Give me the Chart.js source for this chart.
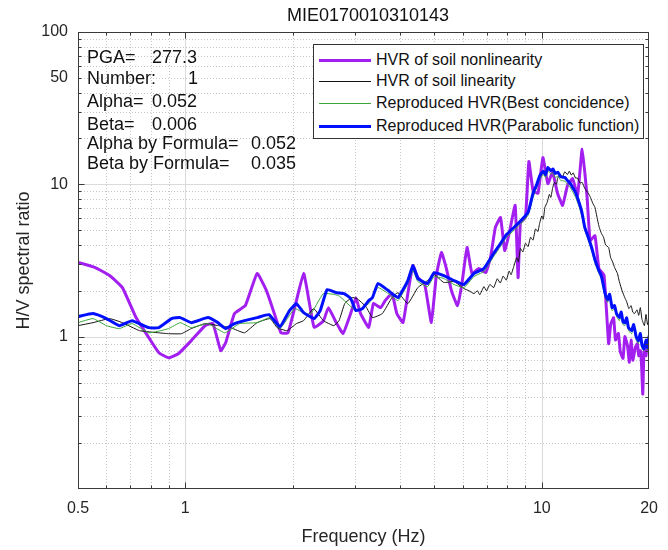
<!DOCTYPE html>
<html><head><meta charset="utf-8">
<script src="https://cdn.jsdelivr.net/npm/chart.js@4.4.1/dist/chart.umd.min.js"></script>
<style>
html,body{margin:0;padding:0;background:#fff;}
#wrap{position:relative;width:668px;height:550px;font-family:"Liberation Sans",Arial,Helvetica,sans-serif;color:#1a1a1a;overflow:hidden;}
canvas{position:absolute;left:0;top:0;}
#title{position:absolute;left:78px;width:580px;top:4px;text-align:center;font-size:18px;line-height:22px;color:#111;}
.ann{position:absolute;font-size:18px;line-height:20px;white-space:pre;color:#111;}
#legend{position:absolute;left:313px;top:44px;width:331px;height:95px;border:1px solid #333;background:#fff;box-sizing:border-box;}
.lrow{position:absolute;left:0;height:22px;width:100%;}
.lline{position:absolute;left:5px;width:52px;top:11px;}
.ltext{position:absolute;left:62px;top:0;font-size:16px;line-height:22px;white-space:nowrap;color:#111;}
</style></head>
<body>
<div id="wrap">
<canvas id="c" width="668" height="550"></canvas>
<div id="title"></div>
<div id="ann"></div>
<div id="legend"></div>
</div>
<script>
// ---------- texts ----------
const chartTitle = 'MIE0170010310143';
const xAxisTitle = 'Frequency (Hz)';
const yAxisTitle = 'H/V spectral ratio';
const seriesNames = ['HVR of soil nonlinearity', 'HVR of soil linearity', 'Reproduced HVR(Best concidence)', 'Reproduced HVR(Parabolic function)'];
const xTickValues = [0.5, 1, 10, 20];
const yTickValues = [1, 10, 50, 100];
const annotationLabels = ['PGA=', 'Number:', 'Alpha=', 'Beta=', 'Alpha by Formula=', 'Beta by Formula='];
const annotationValues = ['277.3', '1', '0.052', '0.006', '0.052', '0.035'];

// ---------- data ----------
const nonlinFreq = [0.5,0.557,0.613,0.666,0.728,0.790,0.843,0.897,0.956,1.039,1.136,1.195,1.257,1.298,1.374,1.474,1.59,1.69,1.777,1.855,1.94,2.027,2.147,2.23,2.30,2.44,2.52,2.65,2.77,2.91,3.01,3.10,3.27,3.37,3.53,3.64,3.80,3.92,4.08,4.21,4.35,4.49,4.69,4.90,5.06,5.23,5.40,5.58,5.80,5.97,6.17,6.37,6.66,6.96,7.18,7.41,7.66,7.87,8.10,8.42,8.58,8.71,9.0,9.2,9.45,9.76,10.07,10.4,10.72,11.07,11.44,11.8,12.2,12.6,12.98,13.4,13.66,14.1,14.46,14.95,15.4,15.6,15.9,16.1,16.4,16.6,16.9,17.1,17.4,17.6,17.8,18.0,18.3,18.55,18.7,18.9,19.05,19.2,19.35,19.6,19.8,20.0];
const nonlinHV = [3.07,2.85,2.52,2.10,1.33,0.985,0.785,0.727,0.773,0.941,1.18,1.22,0.81,0.913,1.42,1.60,2.60,2.0,1.42,1.06,1.06,1.55,2.6,1.65,1.15,1.27,1.55,1.24,1.05,1.42,1.8,1.42,1.15,1.65,1.55,1.73,1.92,1.42,1.24,1.92,2.93,2.44,2.23,1.24,2.52,3.57,2.80,2.0,1.6,2.23,3.85,2.6,2.8,2.63,3.31,5.21,6.06,3.68,4.76,7.27,2.44,5.6,6.06,14.1,9.13,8.74,15.0,10.1,12.0,8.74,7.27,9.8,10.9,8.5,17.0,8.2,4.28,4.6,2.8,2.52,0.90,1.2,1.33,0.95,1.05,0.8,0.72,1.0,0.87,0.68,0.95,0.70,0.85,0.90,0.75,0.81,0.65,0.42,0.8,0.75,0.95,0.87];

const linFreq = [0.5,0.551,0.613,0.666,0.744,0.843,0.897,0.975,1.039,1.136,1.24,1.34,1.465,1.59,1.73,1.81,1.93,2.05,2.147,2.29,2.44,2.61,2.70,2.80,2.93,3.03,3.21,3.35,3.57,3.80,3.95,4.21,4.49,4.78,4.99,5.31,5.67,6.05,6.25,6.45,6.6,6.7,6.88,7.0,7.15,7.33,7.5,7.65,7.79,7.95,8.1,8.2,8.33,8.5,8.6,8.71,8.85,9.0,9.15,9.3,9.45,9.6,9.75,9.87,10.0,10.1,10.2,10.35,10.5,10.6,10.72,10.85,11.0,11.07,11.25,11.44,11.6,11.8,11.95,12.1,12.25,12.43,12.6,12.8,12.98,13.2,13.5,13.7,13.9,14.1,14.3,14.5,14.7,14.9,15.1,15.4,15.6,15.8,16.0,16.3,16.5,16.8,17.1,17.3,17.55,17.8,18.0,18.2,18.5,18.7,18.9,19.1,19.4,19.6,19.8,20.0];
const linHV = [1.181,1.236,1.314,1.236,1.095,1.06,1.046,1.046,1.129,1.218,1.181,1.146,1.06,1.236,1.314,1.146,1.095,1.218,1.274,1.528,1.274,1.181,1.274,1.648,1.805,1.78,1.575,1.334,1.417,1.805,1.947,1.648,2.10,2.335,2.56,2.267,2.30,2.069,2.0,1.918,2.0,1.88,2.13,2.0,2.2,2.1,2.4,2.25,2.5,2.35,2.7,2.55,2.85,3.3,3.1,3.79,3.6,4.1,3.9,4.5,4.3,5.1,4.9,5.6,6.2,5.9,7.06,7.6,8.6,8.2,9.4,10.3,10.0,10.9,11.6,11.2,12.1,11.6,12.2,11.5,11.9,11.0,11.0,10.2,10.3,9.4,8.74,8.2,7.5,7.06,6.0,5.2,4.76,4.5,4.0,3.85,3.3,3.1,2.85,2.6,2.3,2.0,1.8,1.7,1.528,1.6,1.45,1.417,1.5,1.38,1.551,1.3,1.181,1.4,1.2,1.314];

const bestFreq = [0.5,0.551,0.601,0.653,0.709,0.790,0.897,0.968,1.039,1.157,1.29,1.42,1.59,1.73,1.843,2.027,2.23,2.44,2.69,3.01,3.27,3.47,3.71,3.95,4.21,4.35,4.49,4.78,4.99,5.31,5.67,6.05,6.45,6.88,7.33,7.66,7.96,8.58,9.15,9.45,9.65,9.87,10.1,10.25,10.4,10.6,10.75,10.9,11.1,11.3,11.6,11.8,12.0,12.2,12.45,12.72,12.95,13.2,13.5,13.8,14.1,14.46,14.7,15.05,15.3,15.5,15.75,16.0,16.2,16.5,16.7,16.9,17.1,17.3,17.5,17.86,18.1,18.4,18.66,18.9,19.1,19.35,19.6,19.8,20.0];
const bestHV = [1.236,1.314,1.181,1.129,1.218,1.06,1.129,1.236,1.146,1.218,1.06,1.218,1.236,1.334,1.129,1.528,1.375,1.918,1.861,1.483,1.648,2.10,1.918,1.725,2.233,2.72,2.30,2.13,2.48,2.41,2.2,2.10,2.48,2.68,3.36,3.91,4.48,5.29,6.25,8.22,9.4,10.8,11.6,11.1,12.2,11.7,11.9,11.1,11.3,10.6,10.5,10.0,9.6,8.97,8.2,7.16,6.2,4.98,4.3,3.68,3.05,2.6,2.4,1.83,1.68,1.8,1.483,1.52,1.36,1.274,1.38,1.2,1.181,1.26,1.1,1.046,1.14,0.95,0.90,1.0,0.84,0.81,0.9,0.82,0.97];

const paraFreq = [0.5,0.551,0.601,0.653,0.709,0.790,0.843,0.915,0.968,1.039,1.157,1.234,1.298,1.374,1.465,1.59,1.717,1.843,1.96,2.05,2.147,2.30,2.39,2.50,2.65,2.79,2.91,3.01,3.14,3.27,3.35,3.47,3.71,3.95,4.21,4.35,4.49,4.78,4.99,5.31,5.67,6.05,6.45,6.88,7.33,7.66,7.96,8.58,9.15,9.45,9.65,9.87,10.1,10.25,10.4,10.6,10.75,10.9,11.1,11.3,11.6,11.8,12.0,12.2,12.45,12.72,12.95,13.2,13.5,13.8,14.1,14.46,14.7,15.05,15.3,15.5,15.75,16.0,16.2,16.5,16.7,16.9,17.1,17.3,17.5,17.86,18.1,18.4,18.66,18.9,19.1,19.35,19.6,19.8,20.0];
const paraHV = [1.354,1.417,1.314,1.181,1.274,1.146,1.146,1.314,1.334,1.236,1.334,1.236,1.129,1.218,1.274,1.334,1.395,1.163,1.483,1.648,1.438,1.314,1.483,2.04,1.947,1.918,1.78,1.483,1.528,1.725,1.805,2.233,2.007,1.805,2.335,2.93,2.41,2.233,2.63,2.52,2.335,2.2,2.597,2.8,3.52,4.09,4.68,5.53,6.54,8.74,9.8,11.4,12.2,11.6,12.9,12.3,12.6,11.8,12.0,11.2,11.1,10.6,10.2,9.55,8.8,7.61,6.6,5.21,4.5,3.85,3.2,2.72,2.5,1.918,1.75,1.9,1.551,1.6,1.42,1.334,1.45,1.25,1.236,1.33,1.15,1.095,1.2,1.0,0.941,1.05,0.88,0.833,0.95,0.85,1.015];

// ---------- styles ----------
const FONT = '"Liberation Sans", Arial, Helvetica, sans-serif';
const seriesColors = ['#a21ff0', '#111111', '#3aa53a', '#0010ff'];
const seriesWidths = [3, 1, 1, 3];
const seriesOrder = [4, 3, 2, 1];
const annRowY = [47, 68, 91, 114, 133, 153];
const annValX = [152, 188, 152, 152, 251, 251];
const xMinor = [0.6,0.7,0.8,0.9,2,3,4,5,6,7,8,9];
const xMajor = [1,10];
const yMinor = [0.2,0.3,0.4,0.5,0.6,0.7,0.8,0.9,2,3,4,5,6,7,8,9,20,30,40,50,60,70,80,90];
const yMajor = [1,10];

// ---------- html texts ----------
document.getElementById('title').textContent = chartTitle;
const annDiv = document.getElementById('ann');
annotationLabels.forEach((t, i) => {
  const a = document.createElement('div'); a.className = 'ann';
  a.style.left = '87px'; a.style.top = annRowY[i] + 'px'; a.textContent = t; annDiv.appendChild(a);
  const b = document.createElement('div'); b.className = 'ann';
  b.style.left = annValX[i] + 'px'; b.style.top = annRowY[i] + 'px'; b.textContent = annotationValues[i]; annDiv.appendChild(b);
});
const leg = document.getElementById('legend');
const legRowTop = [4, 25, 47, 70];
seriesNames.forEach((n, i) => {
  const r = document.createElement('div'); r.className = 'lrow'; r.style.top = legRowTop[i] + 'px';
  const l = document.createElement('div'); l.className = 'lline';
  l.style.borderTop = seriesWidths[i] + 'px solid ' + seriesColors[i];
  l.style.marginTop = (-seriesWidths[i] / 2) + 'px';
  const t = document.createElement('div'); t.className = 'ltext'; t.textContent = n;
  r.appendChild(l); r.appendChild(t); leg.appendChild(r);
});

// ---------- chart ----------
function pts(F, V) { return F.map((f, i) => ({x: f, y: V[i]})); }
const seriesData = [pts(nonlinFreq, nonlinHV), pts(linFreq, linHV), pts(bestFreq, bestHV), pts(paraFreq, paraHV)];

const axesPlugin = {
  id: 'matlabAxes',
  beforeDatasetsDraw(chart) {
    const {ctx, chartArea: a, scales: {x, y}} = chart;
    ctx.save();
    ctx.lineWidth = 1;
    const vline = (v, col, dash) => { const p = Math.round(x.getPixelForValue(v)) + 0.5; ctx.strokeStyle = col; ctx.setLineDash(dash); ctx.beginPath(); ctx.moveTo(p, a.top); ctx.lineTo(p, a.bottom); ctx.stroke(); };
    const hline = (v, col, dash) => { const p = Math.round(y.getPixelForValue(v)) + 0.5; ctx.strokeStyle = col; ctx.setLineDash(dash); ctx.beginPath(); ctx.moveTo(a.left, p); ctx.lineTo(a.right, p); ctx.stroke(); };
    xMinor.forEach(v => vline(v, '#c4c4c4', [1, 2]));
    yMinor.forEach(v => hline(v, '#c4c4c4', [1, 2]));
    xMajor.forEach(v => vline(v, '#dadada', []));
    yMajor.forEach(v => hline(v, '#dadada', []));
    ctx.restore();
  },
  afterDatasetsDraw(chart) {
    const {ctx, chartArea: a, scales: {x, y}} = chart;
    ctx.save();
    ctx.strokeStyle = '#3a3a3a';
    ctx.lineWidth = 1;
    ctx.setLineDash([]);
    const L = Math.round(a.left) + 0.5, R = Math.round(a.right) - 0.5, T = Math.round(a.top) + 0.5, B = Math.round(a.bottom) - 0.5;
    ctx.strokeRect(L, T, R - L, B - T);
    ctx.beginPath();
    const xt = (v, len) => { const p = Math.round(x.getPixelForValue(v)) + 0.5; ctx.moveTo(p, B); ctx.lineTo(p, B - len); ctx.moveTo(p, T); ctx.lineTo(p, T + len); };
    const yt = (v, len) => { const p = Math.round(y.getPixelForValue(v)) + 0.5; ctx.moveTo(L, p); ctx.lineTo(L + len, p); ctx.moveTo(R, p); ctx.lineTo(R - len, p); };
    xMinor.forEach(v => xt(v, 3)); xMajor.forEach(v => xt(v, 6));
    yMinor.forEach(v => yt(v, 3)); yMajor.forEach(v => yt(v, 6));
    ctx.stroke();
    ctx.restore();
  }
};

new Chart(document.getElementById('c'), {
  type: 'line',
  data: {
    datasets: seriesNames.map((n, i) => ({
      label: n, data: seriesData[i], borderColor: seriesColors[i], borderWidth: seriesWidths[i],
      order: seriesOrder[i], pointRadius: 0, fill: false, tension: 0.12, borderJoinStyle: 'round'
    }))
  },
  options: {
    responsive: false, animation: false, devicePixelRatio: 1,
    layout: {padding: {top: 32, right: 10, left: 0, bottom: 0}},
    plugins: {legend: {display: false}, tooltip: {enabled: false}, title: {display: false}},
    scales: {
      x: {
        type: 'logarithmic', min: 0.5, max: 20,
        afterFit: s => { s.height = 61; },
        afterBuildTicks: s => { s.ticks = xTickValues.map(v => ({value: v})); },
        ticks: {callback: v => String(v), padding: 10, autoSkip: false, maxRotation: 0, font: {size: 16, family: FONT}, color: '#262626'},
        grid: {display: false, drawTicks: false}, border: {display: false},
        title: {display: true, text: xAxisTitle, font: {size: 18, family: FONT}, color: '#262626', padding: {top: 0, bottom: 2}}
      },
      y: {
        type: 'logarithmic', min: 0.1, max: 100,
        afterFit: s => { s.width = 78; },
        afterBuildTicks: s => { s.ticks = yTickValues.map(v => ({value: v})); },
        ticks: {callback: v => String(v), padding: 10, autoSkip: false, font: {size: 16, family: FONT}, color: '#262626'},
        grid: {display: false, drawTicks: false}, border: {display: false},
        title: {display: true, text: yAxisTitle, font: {size: 18, family: FONT}, color: '#262626', padding: {top: 13, bottom: 0}}
      }
    }
  },
  plugins: [axesPlugin]
});
</script>
</body></html>
